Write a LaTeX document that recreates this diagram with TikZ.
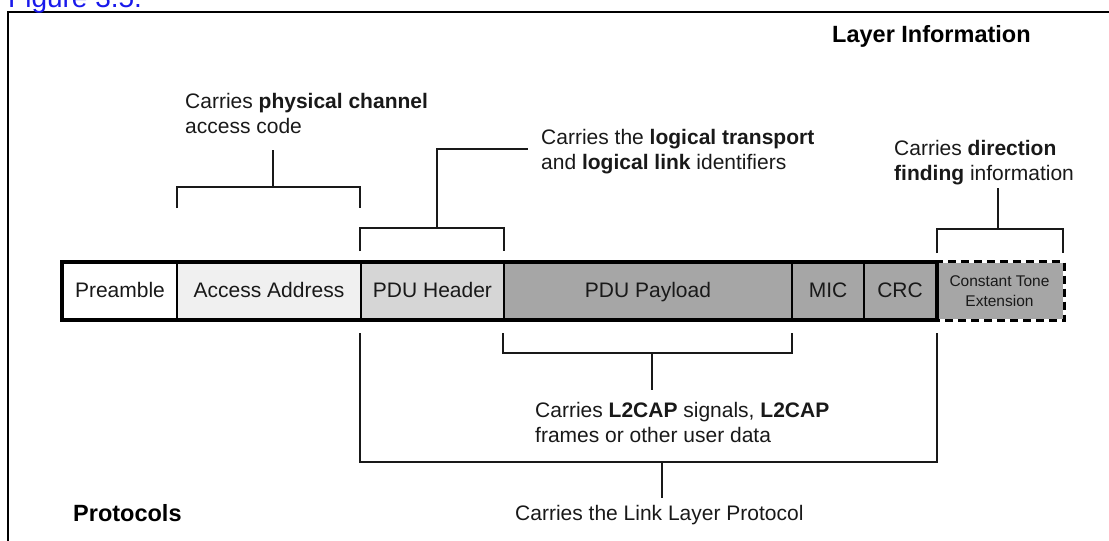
\documentclass[tikz,border=0pt]{standalone}
\usepackage{fontspec}
\setmainfont{Liberation Sans}
\definecolor{figblue}{RGB}{25,25,235}
\definecolor{aafill}{RGB}{240,240,240}
\definecolor{hdrfill}{RGB}{214,214,214}
\definecolor{payfill}{RGB}{166,166,166}
\begin{document}
\begin{tikzpicture}[x=1pt,y=-1pt,
  seg/.style={draw=black, line width=2.3pt, minimum height=56pt, inner sep=0pt,
    font=\fontsize{21}{25}\selectfont, text=black!90},
  seglabel/.style={seg, text height=15pt, text depth=3pt},
  brk/.style={line width=1.3pt, draw=black!90},
  note/.style={anchor=north west, inner sep=0pt, align=left,
    font=\fontsize{21}{25}\selectfont, text=black!90},
  head/.style={anchor=west, inner sep=0pt, font=\fontsize{23.5}{28}\selectfont\bfseries},
]
\useasboundingbox (0,0) rectangle (1109,541);

% outer frame (runs off the page to the right and bottom)
\draw[line width=2.5pt] (8,580) -- (8,12) -- (1140,12);
\node[anchor=base west, inner sep=0pt, text=figblue, font=\fontsize{28}{32}\selectfont]
  (fig) at (8,7) {Figure 3.5.};

% packet fields
\node[seglabel, fill=white,   minimum width=114pt] (pre) at (120,291)   {Preamble};
\node[seglabel, fill=aafill,  minimum width=184pt] (aa)  at (269,291)   {Access Address};
\node[seglabel, fill=hdrfill, minimum width=143pt] (hdr) at (432.5,291) {PDU Header};
\node[seglabel, fill=payfill, minimum width=288pt] (pay) at (648,291)   {PDU Payload};
\node[seglabel, fill=payfill, minimum width=72pt]  (mic) at (828,291)   {MIC};
\node[seglabel, fill=payfill, minimum width=72pt]  (crc) at (900,291)   {CRC};
\node[seg, draw=none, fill=payfill, minimum width=127pt, align=center,
  font=\fontsize{15.5}{19.5}\selectfont] (cte) at (999.5,291) {Constant Tone\\Extension};
\draw[line width=3pt] (pre.north west) rectangle (crc.south east);
\draw[line width=3pt, dash pattern=on 8pt off 5pt]
  (cte.north west) -- (cte.north east) -- (cte.south east) -- (cte.south west);

% layer information captions
\node[head] (layer) at (832,36) {Layer Information};
\node[note] (t1) at (185,93)  {Carries \textbf{physical channel}\\access code};
\node[note] (t2) at (541,129) {Carries the \textbf{logical transport}\\and \textbf{logical link} identifiers};
\node[note] (t3) at (894,140) {Carries \textbf{direction}\\\textbf{finding} information};

% protocol captions
\node[note] (t4) at (535,402) {Carries \textbf{L2CAP} signals, \textbf{L2CAP}\\frames or other user data};
\node[note, anchor=west] (t5) at (515,515) {Carries the Link Layer Protocol};
\node[head] (proto) at (73,513) {Protocols};

% bracket over the access address
\coordinate (b1l) at (177,208); \coordinate (b1r) at (360,208);
\coordinate (b1s) at (273,187); \coordinate (b1t) at (273,150);
\draw[brk] (b1l) |- (b1s) -| (b1r);
\draw[brk] (b1s) -- (b1t);

% bracket over the PDU header
\coordinate (b2l) at (360,251); \coordinate (b2r) at (504,251);
\coordinate (b2s) at (437,228); \coordinate (b2t) at (528,149);
\draw[brk] (b2l) |- (b2s) -| (b2r);
\draw[brk] (b2s) |- (b2t);

% bracket over the constant tone extension
\coordinate (b3l) at (937,253); \coordinate (b3r) at (1063,253);
\coordinate (b3s) at (998,229); \coordinate (b3t) at (998,188);
\draw[brk] (b3l) |- (b3s) -| (b3r);
\draw[brk] (b3s) -- (b3t);

% bracket under payload and MIC
\coordinate (b4l) at (503,333); \coordinate (b4r) at (792,333);
\coordinate (b4s) at (652,353); \coordinate (b4t) at (652,390);
\draw[brk] (b4l) |- (b4s) -| (b4r);
\draw[brk] (b4s) -- (b4t);

% bracket under header through CRC
\coordinate (b5l) at (360,333); \coordinate (b5r) at (937,333);
\coordinate (b5s) at (662,462); \coordinate (b5t) at (662,498);
\draw[brk] (b5l) |- (b5s) -| (b5r);
\draw[brk] (b5s) -- (b5t);
\end{tikzpicture}
\end{document}
